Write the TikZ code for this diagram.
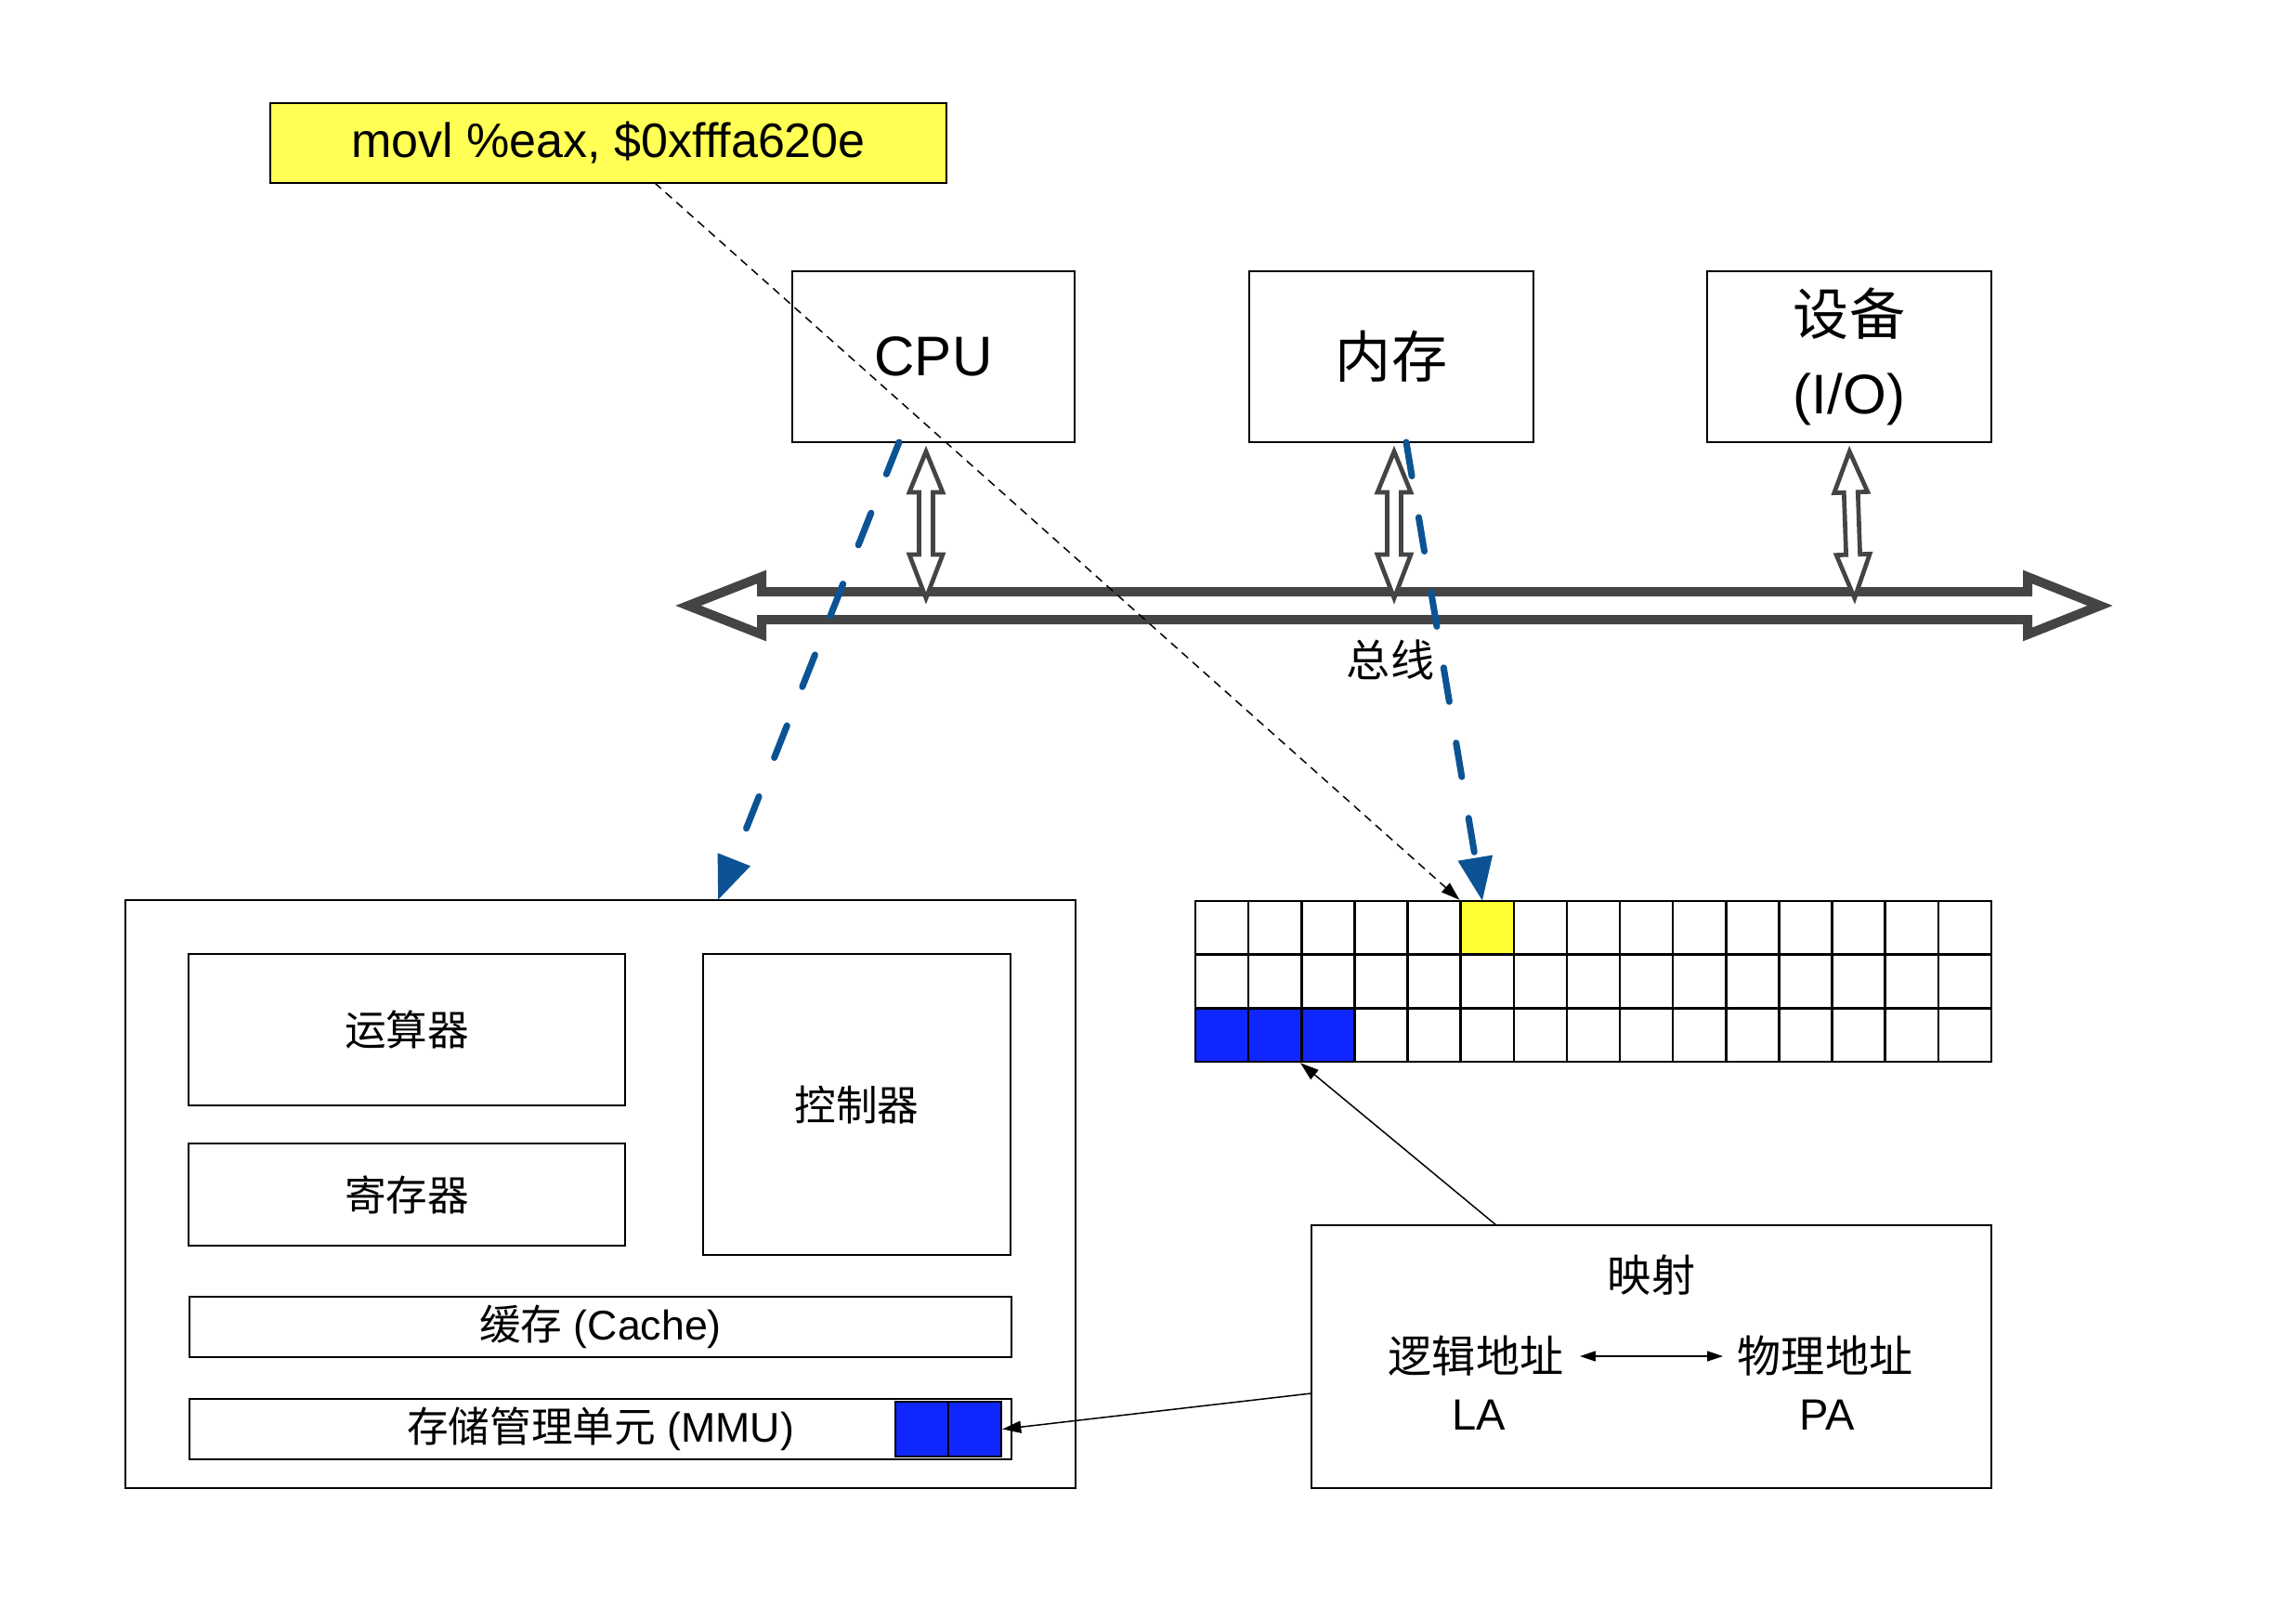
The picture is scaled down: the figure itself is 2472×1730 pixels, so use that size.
\documentclass[tikz,border=0pt]{standalone}
\usepackage{fontspec}
\setmainfont{Liberation Sans}
\newfontfamily\cjk{Noto Sans CJK SC}
\usetikzlibrary{arrows.meta}
\definecolor{busgray}{HTML}{444444}
\definecolor{dashblue}{RGB}{11,83,148}
\definecolor{cellblue}{RGB}{16,38,255}
\definecolor{celly}{RGB}{255,255,51}
\definecolor{instry}{RGB}{255,255,85}
\tikzset{
  box/.style={draw=black, line width=0.02cm, inner sep=0pt, anchor=center, align=center},
  bigfont/.style={font=\fontsize{17.1}{24.3}\selectfont},
  midfont/.style={font=\fontsize{13.4}{16}\selectfont},
  smallfont/.style={font=\fontsize{12.7}{15}\selectfont},
  instrfont/.style={font=\fontsize{14.8}{17}\selectfont},
  cell/.style={draw=black, line width=0.025cm, minimum width=0.5713cm, minimum height=0.5767cm, inner sep=0pt, anchor=center},
  hollow/.style={draw=busgray, fill=white, line width=0.047cm, line join=miter},
  busline/.style={draw=busgray, fill=white, line width=0.1cm, line join=miter},
  bluedash/.style={draw=dashblue, line width=0.07cm, line cap=round, dash pattern=on 0.37cm off 0.45cm, -{Triangle[length=0.47cm,width=0.36cm,fill=dashblue]}},
  blackdash/.style={draw=black, line width=0.015cm, dash pattern=on 0.09cm off 0.065cm, -{Triangle[length=0.2cm,width=0.13cm]}},
  conn/.style={draw=black, line width=0.015cm, -{Triangle[length=0.2cm,width=0.13cm]}},
  vdarr/.pic={\path[hollow] (0,-79) -- (18,-35) -- (7.5,-35) -- (7.5,32) -- (18,32) -- (0,79) -- (-18,32) -- (-7.5,32) -- (-7.5,-35) -- (-18,-35) -- cycle;}
}
\begin{document}
\begin{tikzpicture}[x=0.01cm,y=-0.01cm]
\useasboundingbox (0,0) rectangle (2472,1730);
\fill[white] (0,0) rectangle (2472,1730);

% instruction box
\node[box, fill=instry, minimum width=7.28cm, minimum height=0.86cm, instrfont] (instr) at (655,154) {movl \%eax, \$0xfffa620e};

% top boxes
\node[box, minimum width=3.04cm, minimum height=1.84cm, bigfont] (cpu) at (1005,384) {CPU};
\node[box, minimum width=3.06cm, minimum height=1.84cm, bigfont] (mem) at (1498,384) {\cjk 内存};
\node[box, minimum width=3.06cm, minimum height=1.84cm, bigfont] (dev) at (1991,384) {{\cjk 设备}\\(I/O)};

% bus
\path[busline] (741,652) -- (820,621) -- (820,637) -- (2183,637) -- (2183,621) -- (2261,652) -- (2183,683) -- (2183,667) -- (820,667) -- (820,683) -- cycle;
\node[midfont, inner sep=0pt] (bus) at (1497,710) {\cjk 总线};

% vertical double arrows
\pic at (997,565) {vdarr};
\pic at (1501,565) {vdarr};
\pic[rotate=2] at (1994,565) {vdarr};

% CPU detail
\node[box, minimum width=10.23cm, minimum height=6.33cm] (cpud) at (646.5,1285.5) {};
\node[box, minimum width=4.70cm, minimum height=1.63cm, smallfont] (alu) at (438,1108.5) {\cjk 运算器};
\node[box, minimum width=4.70cm, minimum height=1.10cm, smallfont] (reg) at (438,1286) {\cjk 寄存器};
\node[box, minimum width=3.31cm, minimum height=3.24cm, smallfont] (ctl) at (922.5,1189) {\cjk 控制器};
\node[box, minimum width=8.85cm, minimum height=0.65cm, smallfont] (cache) at (646.5,1428.5) {{\cjk 缓存} (Cache)};
\node[box, minimum width=8.85cm, minimum height=0.65cm, smallfont] (mmu) at (646.5,1538.5) {{\cjk 存储管理单元} (MMU)};
\node[cell, fill=cellblue, minimum width=0.57cm, minimum height=0.59cm] (mc1) at (992.5,1538.5) {};
\node[cell, fill=cellblue, minimum width=0.57cm, minimum height=0.59cm] (mc2) at (1049.5,1538.5) {};

% memory grid
\foreach \r in {0,1,2}{\foreach \c in {0,...,14}{
  \node[cell] (g\r-\c) at ({1315.57+57.133*\c},{998.83+57.667*\r}) {};
}}
\node[cell, fill=celly] (g0-5) at ({1315.57+57.133*5},998.83) {};
\node[cell, fill=cellblue] (g2-0) at (1315.57,1114.17) {};
\node[cell, fill=cellblue] (g2-1) at ({1315.57+57.133},1114.17) {};
\node[cell, fill=cellblue] (g2-2) at ({1315.57+57.133*2},1114.17) {};

% mapping box
\node[box, minimum width=7.32cm, minimum height=2.83cm] (map) at (1778,1460.5) {};
\node[midfont, inner sep=0pt] (maptitle) at (1778,1373) {\cjk 映射};
\node[midfont, inner sep=0pt] (lacn) at (1589,1460) {\cjk 逻辑地址};
\node[midfont, inner sep=0pt] (la) at (1592,1523) {LA};
\node[midfont, inner sep=0pt] (pacn) at (1965,1460) {\cjk 物理地址};
\node[midfont, inner sep=0pt] (pa) at (1967,1523) {PA};
\draw[draw=black, line width=0.015cm, {Triangle[length=0.17cm,width=0.11cm]}-{Triangle[length=0.17cm,width=0.11cm]}] ([xshift=0.17cm]lacn.east) -- ([xshift=-0.15cm]pacn.west);

% connectors
\coordinate (instrout) at (705,197);
\coordinate (cpuout) at (968,476);
\coordinate (cpudin) at (773,969);
\coordinate (memout) at (1514,476);
\coordinate (memin) at (1596,970);
\coordinate (maptop) at (1611,1319);
\coordinate (mapleft) at (1412,1500);
\draw[blackdash] (instrout) -- (g0-5.north west);
\draw[bluedash] (cpuout) -- (cpudin);
\draw[bluedash] (memout) -- (memin);
\draw[conn] (maptop) -- (g2-2.south west);
\draw[conn] (mapleft) -- (mc2.east);
\end{tikzpicture}
\end{document}
